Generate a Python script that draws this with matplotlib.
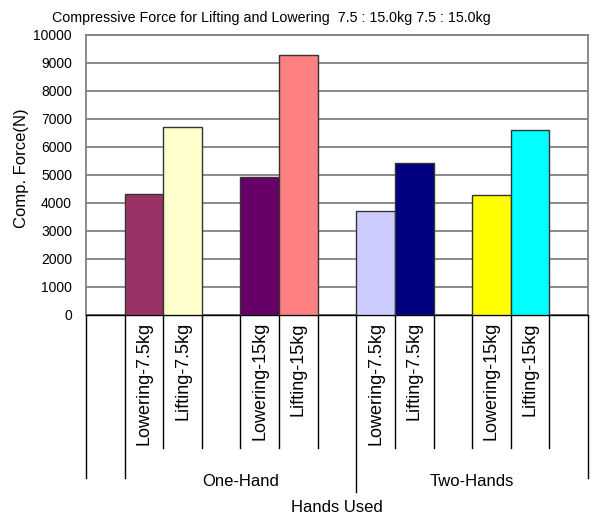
import matplotlib
matplotlib.use("Agg")
import matplotlib.pyplot as plt
import numpy as np

# ---- data ----
sub_labels = ["", "Lowering-7.5kg", "Lifting-7.5kg", "", "Lowering-15kg", "Lifting-15kg", "",
              "Lowering-7.5kg", "Lifting-7.5kg", "", "Lowering-15kg", "Lifting-15kg", ""]
values = [np.nan, 4310, 6725, np.nan, 4918, 9275, np.nan,
          3714, 5420, np.nan, 4288, 6600, np.nan]
bar_colors = ["none", "#993366", "#FFFFCC", "none", "#660066", "#FF8080", "none",
              "#CCCCFF", "#000080", "none", "#FFFF00", "#00FFFF", "none"]
group_labels = ["", "One-Hand", "Two-Hands"]
group_spans = [(0, 0), (1, 6), (7, 12)]   # slot index ranges
yticks = list(range(0, 10001, 1000))

plt.rcParams['font.family'] = ['Liberation Sans', 'DejaVu Sans']

fig = plt.figure(figsize=(5.92, 5.18), dpi=100)
ax = fig.add_axes([86/592, 1-315/518, (588-86)/592, 280/518])

x = np.arange(len(values))
vals = np.nan_to_num(np.array(values, dtype=float))
ax.bar(x, vals, width=1.0, color=[c if c != "none" else "white" for c in bar_colors],
       edgecolor="#333333", linewidth=1.0, zorder=3)
ax.set_xlim(-0.5, len(values) - 0.5)
ax.set_ylim(0, 10000)
ax.set_yticks(yticks)
ax.set_yticklabels([str(t) for t in yticks], fontsize=10)
ax.tick_params(axis='y', length=0, pad=10)
ax.set_xticks([])
ax.yaxis.grid(True, color="#808080", linewidth=1.3, zorder=0)
ax.set_axisbelow(True)
for s in ["left", "top", "right"]:
    ax.spines[s].set_color("#808080")
    ax.spines[s].set_linewidth(1.3)
ax.spines["bottom"].set_color("black")
ax.spines["bottom"].set_linewidth(1.0)

tr = ax.get_xaxis_transform()
H = 280.0
def ay(py):
    return (315 - py) / H

# group boundaries (long lines)
group_edges = set()
for a, b in group_spans:
    group_edges.add(a - 0.5)
    group_edges.add(b + 0.5)
for e in sorted(group_edges):
    bottom = 492 if abs(e - 6.5) < 1e-6 else 478
    ax.plot([e, e], [0, ay(bottom)], transform=tr, color="black", lw=1.0, clip_on=False)
# sub-category boundaries (short lines)
for k in range(len(values) - 1):
    e = k + 0.5
    if e in group_edges:
        continue
    ax.plot([e, e], [0, ay(448)], transform=tr, color="black", lw=1.0, clip_on=False)

# sub-category labels
for xi, lab in zip(x, sub_labels):
    if lab:
        ax.text(xi, ay(322), lab, transform=tr, rotation=90, ha="center", va="top",
                fontsize=13)
# group labels
for (a, b), lab in zip(group_spans, group_labels):
    if lab:
        ax.text((a + b) / 2, ay(482), lab, transform=tr, ha="center", va="center",
                fontsize=12)

ax.text(0.5, ay(508), "Hands Used", transform=ax.transAxes, ha="center", va="center",
        fontsize=12)
fig.text(22/592, 1-168/518, "Comp. Force(N)", rotation=90, ha="center", va="center",
         fontsize=12)
fig.text(271/592, 1-18/518, "Compressive Force for Lifting and Lowering  7.5 : 15.0kg 7.5 : 15.0kg",
         ha="center", va="center", fontsize=10.3)

fig.savefig("out.png", dpi=100)
